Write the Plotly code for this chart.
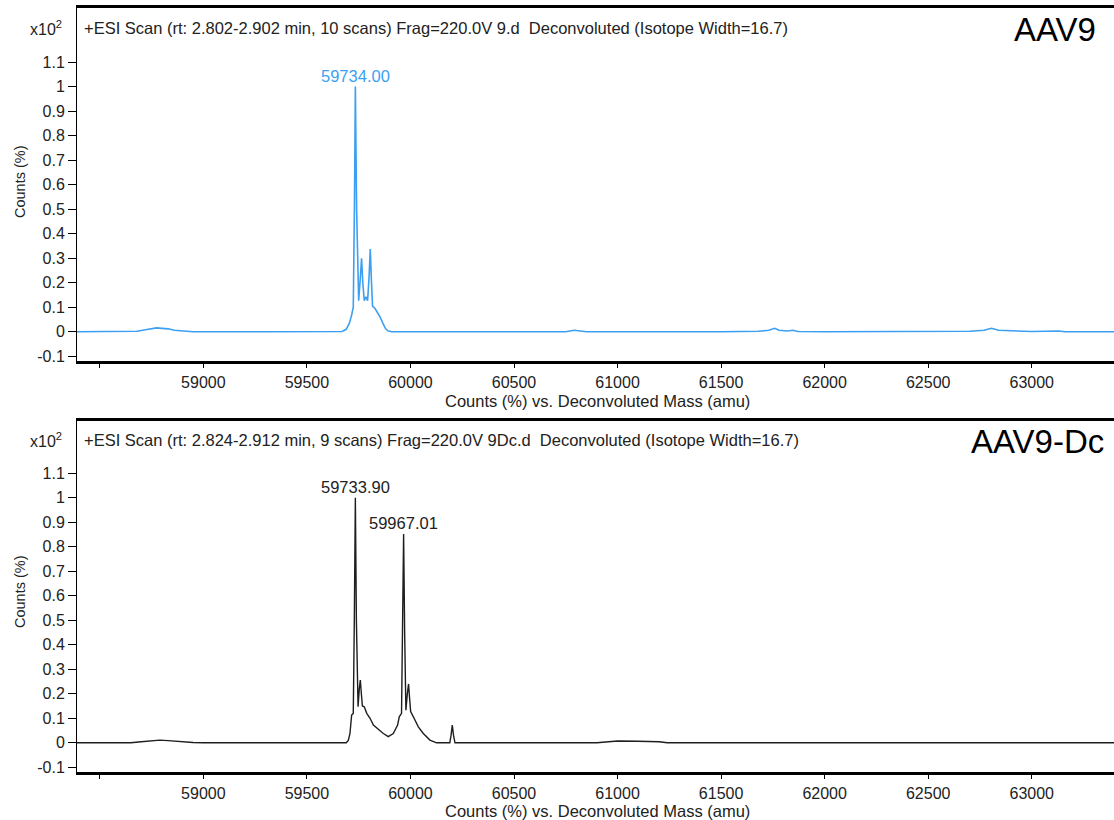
import plotly.graph_objects as go

# ---- data (counts in units of x10^2 %) ----
top_mass = [58390, 58600, 58680, 58720, 58750, 58775, 58800, 58830, 58860, 58900, 58950,
            59300, 59600, 59670, 59690, 59705, 59716, 59724, 59730, 59734, 59740, 59750,
            59758, 59764, 59770, 59777, 59785, 59793, 59800, 59806, 59812, 59817, 59829,
            59840, 59853, 59869, 59880, 59893, 59910, 60500, 60750, 60790, 60820, 60850,
            61500, 61680, 61730, 61759, 61780, 61820, 61847, 61870, 62000, 62600, 62700,
            62770, 62805, 62840, 62900, 62950, 63000, 63130, 63160, 63400]
top_counts = [0, 0, 0.002, 0.008, 0.012, 0.016, 0.014, 0.012, 0.006, 0.002, 0,
              0, 0, 0.001, 0.01, 0.035, 0.068, 0.10, 0.55, 1.0, 0.5, 0.127,
              0.22, 0.30, 0.2, 0.127, 0.143, 0.127, 0.22, 0.338, 0.2, 0.105, 0.095,
              0.08, 0.061, 0.031, 0.012, 0.003, 0, 0, 0, 0.006, 0.002, 0,
              0, 0.002, 0.006, 0.014, 0.006, 0.003, 0.006, 0.001, 0, 0, 0.002,
              0.006, 0.014, 0.006, 0.004, 0.003, 0.001, 0.003, 0, 0]

bot_mass = [58390, 58650, 58700, 58750, 58790, 58830, 58880, 58950, 59000, 59690, 59700,
            59708, 59716, 59724, 59729, 59734, 59739, 59747, 59753, 59758, 59763, 59768,
            59777, 59789, 59805, 59821, 59845, 59869, 59893, 59917, 59938, 59946, 59957,
            59963, 59967, 59972, 59978, 59985, 59991, 59996, 60001, 60014, 60038, 60062,
            60094, 60126, 60190, 60196, 60202, 60208, 60215, 60900, 60950, 61000, 61100,
            61200, 61240, 63400]
bot_counts = [0, 0, 0.004, 0.009, 0.011, 0.009, 0.005, 0.001, 0, 0, 0.01,
              0.038, 0.113, 0.12, 0.5, 1.0, 0.5, 0.147, 0.22, 0.256, 0.2, 0.15,
              0.147, 0.12, 0.10, 0.072, 0.055, 0.038, 0.025, 0.038, 0.072, 0.106, 0.12,
              0.45, 0.852, 0.45, 0.133, 0.2, 0.24, 0.18, 0.127, 0.106, 0.065, 0.038,
              0.011, 0, 0, 0.03, 0.072, 0.03, 0, 0, 0.004, 0.007, 0.006,
              0.004, 0, 0]

top_peak_mass = [59734]
top_peak_counts = [1.0]
top_peak_labels = ["59734.00"]
bot_peak_mass = [59734, 59967]
bot_peak_counts = [1.0, 0.852]
bot_peak_labels = ["59733.90", "59967.01"]

x_tickvals = [59000, 59500, 60000, 60500, 61000, 61500, 62000, 62500, 63000]
x_ticktext = ["59000", "59500", "60000", "60500", "61000", "61500", "62000", "62500", "63000"]
x_minor_tickvals = [58500]
y_tickvals = [-0.1, 0, 0.1, 0.2, 0.3, 0.4, 0.5, 0.6, 0.7, 0.8, 0.9, 1.0, 1.1]
y_ticktext = ["-0.1", "0", "0.1", "0.2", "0.3", "0.4", "0.5", "0.6", "0.7", "0.8", "0.9", "1", "1.1"]

top_header = "+ESI Scan (rt: 2.802-2.902 min, 10 scans) Frag=220.0V 9.d \u00a0Deconvoluted (Isotope Width=16.7)"
bot_header = "+ESI Scan (rt: 2.824-2.912 min, 9 scans) Frag=220.0V 9Dc.d \u00a0Deconvoluted (Isotope Width=16.7)"
x_title = "Counts (%) vs. Deconvoluted Mass (amu)"
y_title = "Counts (%)"

# ---- layout helpers ----
W, H = 1114, 820
FONT = "Liberation Sans, Arial, sans-serif"
BLUE = "#3c9ff2"
DARK = "#1e1e1e"
TXT = "#222"

def px(x):
    return x / W

def py(y):
    return 1 - y / H

fig = go.Figure()
fig.add_trace(go.Scatter(x=top_mass, y=top_counts, mode="lines",
                         line=dict(color=BLUE, width=1.6), xaxis="x", yaxis="y",
                         hoverinfo="skip"))
fig.add_trace(go.Scatter(x=bot_mass, y=bot_counts, mode="lines",
                         line=dict(color=DARK, width=1.4), xaxis="x2", yaxis="y2",
                         hoverinfo="skip"))

xr = [58390, 63397]
xaxis_common = dict(range=xr, domain=[px(77), 1], showgrid=False, zeroline=False,
                    showline=True, linecolor="black", linewidth=2.5, mirror=True,
                    ticks="outside", ticklen=5, tickwidth=1, tickcolor="black",
                    tickvals=x_tickvals, ticktext=x_ticktext,
                    minor=dict(tickvals=x_minor_tickvals, ticks="outside", ticklen=5,
                               tickwidth=1, tickcolor="black", showgrid=False),
                    tickfont=dict(family=FONT, size=16, color=TXT),
                    automargin=False)
yaxis_common = dict(showgrid=False, zeroline=False, showline=True, linecolor="black",
                    linewidth=1, ticks="outside", ticklen=8, tickwidth=1, tickcolor="black",
                    tickvals=y_tickvals, ticktext=y_ticktext,
                    tickfont=dict(family=FONT, size=16, color=TXT),
                    automargin=False)

fig.update_layout(
    width=W, height=H, margin=dict(l=0, r=0, t=0, b=0),
    paper_bgcolor="white", plot_bgcolor="white", showlegend=False,
    xaxis=dict(**xaxis_common, anchor="y"),
    xaxis2=dict(**xaxis_common, anchor="y2"),
    yaxis=dict(**yaxis_common, range=[-0.118, 1.322], domain=[py(360.7), py(7.7)], anchor="x"),
    yaxis2=dict(**yaxis_common, range=[-0.118, 1.313], domain=[py(771.7), py(421)], anchor="x2"),
)

ann = []
# peak labels
for m, c, t in zip(top_peak_mass, top_peak_counts, top_peak_labels):
    ann.append(dict(x=m, y=c, xref="x", yref="y", text=t, showarrow=False,
                    yanchor="bottom", yshift=0, font=dict(family=FONT, size=16.5, color=BLUE)))
for m, c, t in zip(bot_peak_mass, bot_peak_counts, bot_peak_labels):
    ann.append(dict(x=m, y=c, xref="x2", yref="y2", text=t, showarrow=False,
                    yanchor="bottom", yshift=0, font=dict(family=FONT, size=16.5, color=TXT)))

for yc, header, tag, tagx in [(28, top_header, "AAV9", 1098), (440, bot_header, "AAV9-Dc", 1106)]:
    ann.append(dict(x=px(82), y=py(yc), xref="paper", yref="paper", text=header,
                    showarrow=False, xanchor="left", yanchor="middle",
                    font=dict(family=FONT, size=16.5, color=TXT)))
    ann.append(dict(x=px(tagx), y=py(yc + 1), xref="paper", yref="paper", text=tag,
                    showarrow=False, xanchor="right", yanchor="middle",
                    font=dict(family=FONT, size=33, color="black")))
    ann.append(dict(x=px(64), y=py(yc), xref="paper", yref="paper", text="x10<sup>2</sup>",
                    showarrow=False, xanchor="right", yanchor="middle",
                    font=dict(family=FONT, size=16, color=TXT)))

for yc in [401, 810.5]:
    ann.append(dict(x=px(597), y=py(yc), xref="paper", yref="paper", text=x_title,
                    showarrow=False, xanchor="center", yanchor="middle",
                    font=dict(family=FONT, size=16.5, color=TXT)))
for yc in [182, 592]:
    ann.append(dict(x=px(20), y=py(yc), xref="paper", yref="paper", text=y_title,
                    showarrow=False, textangle=-90, xanchor="center", yanchor="middle",
                    font=dict(family=FONT, size=14.5, color=TXT)))

fig.update_layout(annotations=ann)
fig.write_html("out.html")
